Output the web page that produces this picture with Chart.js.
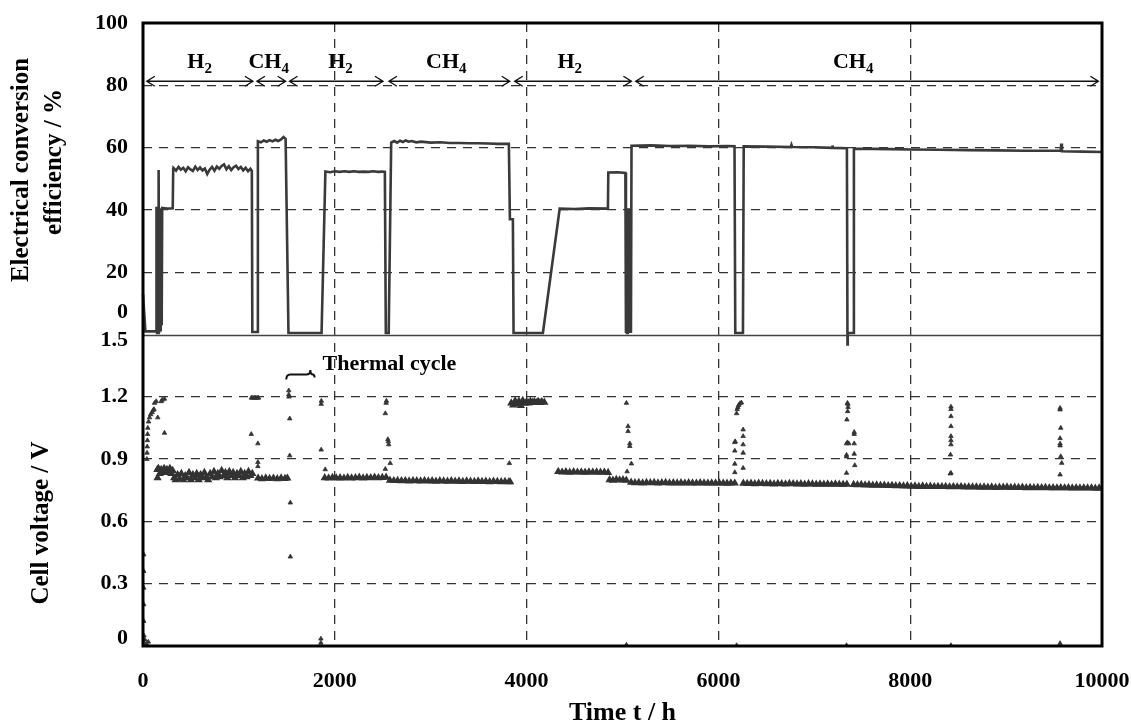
<!DOCTYPE html>
<html><head><meta charset="utf-8">
<script src="https://cdn.jsdelivr.net/npm/chart.js@4/dist/chart.umd.min.js"></script>
<style>html,body{margin:0;padding:0;background:#fff;}#wrap{width:1131px;height:723px;}</style>
</head><body><div id="wrap"><canvas id="c" width="1131" height="723"></canvas></div>
<script>
// ---------------- data ----------------
const xTicks = [0, 2000, 4000, 6000, 8000, 10000];
const effTicks = [0, 20, 40, 60, 80, 100];
const voltTicks = [0, 0.3, 0.6, 0.9, 1.2, 1.5];

// electrical conversion efficiency (%) vs time (h)
const effHours = [
  0, 25, 138, 141, 147, 152, 157, 163, 168, 175, 180, 185, 190, 195, 200, 250, 310, 315,
  320, 345, 370, 395, 420, 445, 470, 495, 520, 545, 570, 595, 620, 645, 670, 695, 720, 745,
  770, 795, 820, 845, 870, 895, 920, 945, 970, 995, 1020, 1045, 1070, 1095, 1120, 1135,
  1140, 1192, 1198, 1230, 1260, 1290, 1320, 1350, 1380, 1410, 1440, 1465, 1487,
  1517, 1862, 1902, 1950, 2000, 2050, 2100, 2150, 2200, 2250, 2300, 2350, 2400, 2450, 2500, 2522,
  2532, 2562, 2588, 2620, 2650, 2680, 2710, 2740, 2770, 2800, 2850, 2900, 3000, 3100, 3200, 3300,
  3400, 3500, 3600, 3700, 3815, 3826, 3857, 3864, 4170, 4345, 4500, 4650, 4848, 4852, 4950, 5030,
  5036, 5042, 5048, 5055, 5062, 5069, 5076, 5083, 5088, 5094, 5300, 5500, 5700, 5900, 6100, 6168,
  6176, 6256, 6264, 6500, 6755, 6762, 6770, 7000, 7185, 7190, 7195, 7340, 7346, 7349, 7407, 7413,
  7600, 7800, 8000, 8300, 8600, 8900, 9200, 9570, 9575, 9582, 9800, 10000
];
const effValues = [
  13, 1, 1, 41, 0.5, 41, 0.5, 52.8, 0.5, 0.5, 40.5, 1, 40.5, 3, 40.6, 40.4, 40.5, 53.2,
  53.4, 52.6, 53.8, 52.9, 53.5, 52.4, 53.7, 53.0, 52.5, 53.9, 52.8, 53.6, 52.7, 53.3, 51.5, 52.9, 53.8, 52.6,
  53.9, 53.2, 54.1, 54.6, 53.0, 54.0, 52.8, 53.7, 54.2, 53.1, 53.8, 52.7, 53.5, 52.4, 53.2, 52.5,
  0.8, 0.8, 62.0, 61.7, 62.3, 61.9, 62.4, 62.0, 62.5, 62.1, 62.6, 63.4, 62.8,
  0.5, 0.5, 52.3, 52.1, 52.4, 52.2, 52.4, 52.2, 52.4, 52.2, 52.3, 52.2, 52.4, 52.2, 52.3, 52.2,
  0.5, 0.5, 61.6, 62.1, 61.6, 62.2, 61.8, 62.3, 61.9, 62.1, 61.7, 61.9, 61.6, 61.7, 61.5, 61.5,
  61.4, 61.4, 61.3, 61.2, 61.2, 37, 37, 0.5, 0.5, 40.4, 40.3, 40.5, 40.4, 52.0, 52.1, 51.9,
  0.5, 40.5, 0.5, 40.5, 0.5, 40.5, 0.5, 40.5, 0.5, 60.6, 60.7, 60.5, 60.6, 60.4, 60.5, 60.4,
  0.5, 0.5, 60.4, 60.3, 60.2, 60.9, 60.2, 60.1, 59.9, 60.7, 59.9, 59.8, -3.2, 0.5, 0.5, 59.6,
  59.6, 59.5, 59.4, 59.3, 59.2, 59.1, 59.0, 59.0, 61.3, 58.8, 58.7, 58.6
];

// cell voltage (V): dense steady-operation bands
const voltBandHours = [
  150, 152, 160, 175, 190, 205, 220, 235, 250, 265,
  280, 295, 310, 325, 340, 360, 380, 400, 420, 440,
  460, 480, 500, 520, 540, 560, 580, 600, 620, 640,
  660, 680, 700, 720, 740, 760, 780, 800, 820, 840,
  860, 880, 900, 920, 940, 960, 980, 1000, 1020, 1040,
  1060, 1080, 1100, 1120, 1140,
  1200, 1240, 1280, 1320, 1360, 1400, 1440, 1480, 1505,
  1895, 1935, 1975, 2015, 2055, 2095, 2135, 2175, 2215, 2255, 2295, 2335, 2375, 2415, 2455, 2495, 2535,
  2575, 2615, 2655, 2695, 2735, 2775, 2815, 2855, 2895, 2935,
  2975, 3015, 3055, 3095, 3135, 3175, 3215, 3255, 3295, 3335,
  3375, 3415, 3455, 3495, 3535, 3575, 3615, 3655, 3695, 3735,
  3775, 3815, 3828,
  3840, 3860, 3880, 3900, 3920, 3940, 3960, 3980, 4000, 4020, 4040, 4060, 4080, 4100, 4120, 4140, 4160, 4185,
  4330, 4370, 4410, 4450, 4490, 4530, 4570, 4610, 4650, 4690, 4730, 4770, 4810, 4850,
  4865, 4900, 4935, 4970, 5005, 5040,
  5090, 5130, 5170, 5210, 5250, 5290, 5330, 5370, 5410, 5450,
  5490, 5530, 5570, 5610, 5650, 5690, 5730, 5770, 5810, 5850,
  5890, 5930, 5970, 6010, 6050, 6090, 6130, 6170,
  6260, 6300, 6340, 6380, 6420, 6460, 6500, 6540, 6580, 6620,
  6660, 6700, 6740, 6780, 6820, 6860, 6900, 6940, 6980, 7020,
  7060, 7100, 7140, 7180, 7220, 7260, 7300, 7340,
  7410, 7450, 7490, 7530, 7570, 7610, 7650, 7690, 7730, 7770,
  7810, 7850, 7890, 7930, 7970, 8010, 8050, 8090, 8130, 8170,
  8210, 8250, 8290, 8330, 8370, 8410, 8450, 8490, 8530, 8570,
  8610, 8650, 8690, 8730, 8770, 8810, 8850, 8890, 8930, 8970,
  9010, 9050, 9090, 9130, 9170, 9210, 9250, 9290, 9330, 9370,
  9410, 9450, 9490, 9530, 9570, 9610, 9650, 9690, 9730, 9770,
  9810, 9850, 9890, 9930, 9970, 10000
];
const voltBandValues = [
  0.850, 0.810, 0.855, 0.830, 0.850, 0.840, 0.855, 0.835, 0.850, 0.840,
  0.855, 0.830, 0.845, 0.810, 0.800, 0.825, 0.805, 0.830, 0.800, 0.820,
  0.810, 0.835, 0.800, 0.825, 0.810, 0.830, 0.800, 0.825, 0.810, 0.835,
  0.815, 0.800, 0.830, 0.815, 0.840, 0.810, 0.830, 0.815, 0.845, 0.820,
  0.835, 0.810, 0.840, 0.820, 0.835, 0.810, 0.830, 0.820, 0.840, 0.810,
  0.830, 0.815, 0.840, 0.820, 0.830,
  0.808, 0.805, 0.809, 0.806, 0.808, 0.805, 0.809, 0.806, 0.808,
  0.810, 0.808, 0.811, 0.809, 0.810, 0.808, 0.811, 0.809, 0.810, 0.812, 0.809, 0.811, 0.810, 0.812, 0.810, 0.811, 0.812,
  0.798, 0.796, 0.797, 0.795, 0.796, 0.794, 0.796, 0.795, 0.794, 0.796,
  0.794, 0.795, 0.793, 0.795, 0.794, 0.793, 0.795, 0.793, 0.794, 0.792,
  0.794, 0.793, 0.792, 0.794, 0.792, 0.793, 0.791, 0.793, 0.792, 0.791,
  0.792, 0.791, 0.790,
  1.170, 1.160, 1.180, 1.165, 1.178, 1.158, 1.182, 1.168, 1.176, 1.170, 1.178, 1.172, 1.176, 1.172, 1.177, 1.172, 1.176, 1.173,
  0.840, 0.837, 0.839, 0.836, 0.839, 0.837, 0.838, 0.836, 0.838, 0.837, 0.838, 0.836, 0.837, 0.835,
  0.800, 0.798, 0.801, 0.799, 0.800, 0.798,
  0.788, 0.786, 0.787, 0.785, 0.787, 0.786, 0.787, 0.785, 0.786, 0.787,
  0.785, 0.786, 0.785, 0.786, 0.784, 0.786, 0.785, 0.784, 0.786, 0.785,
  0.784, 0.785, 0.784, 0.785, 0.784, 0.783, 0.785, 0.784,
  0.783, 0.782, 0.783, 0.781, 0.783, 0.782, 0.781, 0.782, 0.780, 0.782,
  0.781, 0.780, 0.782, 0.781, 0.780, 0.781, 0.779, 0.781, 0.780, 0.779,
  0.780, 0.779, 0.780, 0.778, 0.780, 0.779, 0.778, 0.779,
  0.777, 0.776, 0.777, 0.775, 0.776, 0.774, 0.775, 0.773, 0.774, 0.772,
  0.773, 0.771, 0.772, 0.770, 0.771, 0.769, 0.770, 0.768, 0.770, 0.768,
  0.769, 0.767, 0.768, 0.767, 0.768, 0.766, 0.767, 0.766, 0.767, 0.765,
  0.766, 0.765, 0.766, 0.764, 0.765, 0.764, 0.765, 0.763, 0.764, 0.764,
  0.765, 0.763, 0.764, 0.763, 0.764, 0.762, 0.763, 0.762, 0.763, 0.762,
  0.763, 0.761, 0.762, 0.761, 0.762, 0.761, 0.762, 0.760, 0.761, 0.760,
  0.761, 0.760, 0.761, 0.759, 0.760, 0.760
];

// cell voltage (V): start-up / shut-down transients
const voltTransHours = [
  0, 10, 20, 35, 55, 8, 8, 8, 8, 8,
  40, 42, 44, 46, 48, 50, 58, 68, 80, 95,
  105, 115, 120, 138, 154, 190, 200, 224, 224,
  1130, 1145, 1160, 1175, 1190, 1205, 1129, 1198, 1198, 1198,
  1520, 1520, 1522, 1530, 1530, 1536, 1536,
  1858, 1860, 1858, 1900, 1855, 1855,
  2535, 2538, 2527, 2553, 2558, 2562, 2578, 2527,
  3820,
  5041, 5058, 5058, 5076, 5076, 5093, 5048, 5041,
  6190, 6196, 6203, 6212, 6225, 6240, 6171, 6175, 6171, 6171, 6171, 6258, 6258, 6258, 6258, 6258, 6190,
  7345, 7350, 7352, 7348, 7340, 7336, 7346, 7360, 7336, 7336, 7416, 7416, 7416, 7416, 7422, 7336, 7336,
  8425, 8425, 8425, 8425, 8425, 8425, 8425, 8420, 8425, 8418, 8425,
  9563, 9563, 9570, 9563, 9563, 9563, 9570, 9580, 9563, 9563
];
const voltTransValues = [
  0.02, 0.05, 0.03, 0.01, 0.02, 0.12, 0.20, 0.28, 0.36, 0.44,
  0.90, 0.93, 0.96, 0.99, 1.02, 1.05, 1.08, 1.10, 1.115, 1.125,
  1.135, 1.14, 1.17, 1.178, 1.10, 1.178, 1.185, 1.19, 1.026,
  1.195, 1.195, 1.195, 1.195, 1.195, 1.195, 1.02, 0.975, 0.885, 0.865,
  1.23, 1.21, 1.20, 1.095, 0.917, 0.69, 0.43,
  1.165, 1.18, 0.945, 0.85, 0.035, 0.015,
  1.17, 1.18, 1.12, 0.995, 0.985, 0.97, 0.88, 0.852,
  0.88,
  1.17, 1.058, 1.034, 0.975, 0.962, 0.878, 0.84, 0.005,
  1.12, 1.14, 1.15, 1.16, 1.168, 1.172, 0.981, 0.985, 0.94, 0.877, 0.836, 1.042, 1.01, 0.97, 0.93, 0.857, 0.003,
  1.17, 1.165, 1.15, 1.13, 1.09, 0.975, 0.98, 0.975, 0.92, 0.912, 1.02, 1.03, 0.975, 0.925, 0.87, 0.833, 0.003,
  1.152, 1.14, 1.106, 1.058, 1.01, 0.99, 0.97, 0.921, 0.833, 0.83, 0.003,
  1.146, 1.138, 1.05, 1.0, 0.974, 0.965, 0.913, 0.881, 0.825, 0.013
];

// fuel phases (arrows along the top)
const phaseNames = ['H', 'CH', 'H', 'CH', 'H', 'CH'];
const phaseSubs = ['2', '4', '2', '4', '2', '4'];
const phaseStart = [40, 1188, 1528, 2565, 3876, 5138];
const phaseEnd = [1146, 1487, 2502, 3824, 5093, 9962];
const phaseLabelAt = [590, 1310, 2060, 3163, 4450, 7406];
const phaseLeftHead = [true, true, true, true, true, true];
const phaseArrowLevel = 81.3;

// thermal cycle brace
const thermalStart = 1494, thermalPeak = 1745, thermalEnd = 1789, thermalLevel = 1.307;
const thermalText = 'Thermal cycle';

// ---------------- chart ----------------
const SERIF = '"Liberation Serif", "Times New Roman", serif';
const GRID = '#333';
const toXY = (hs, vs) => hs.map((h, i) => ({x: h, y: vs[i]}));

const deco = {
  id: 'deco',
  afterDraw(chart) {
    const {ctx, chartArea: a, scales} = chart;
    const x = scales.x, yE = scales.yE, yV = scales.yV;
    ctx.save();
    // divider between panels
    ctx.strokeStyle = '#444'; ctx.lineWidth = 1.5;
    const yd = Math.round(yE.bottom) + 0.5;
    ctx.beginPath(); ctx.moveTo(a.left, yd); ctx.lineTo(a.right, yd); ctx.stroke();
    // frame
    ctx.strokeStyle = '#000'; ctx.lineWidth = 3;
    ctx.strokeRect(a.left, a.top, a.right - a.left, a.bottom - a.top);

    ctx.fillStyle = '#000';
    // displaced tick labels
    ctx.font = 'bold 22px ' + SERIF; ctx.textAlign = 'right'; ctx.textBaseline = 'middle';
    ctx.fillText('0', a.left - 15, yE.bottom - 22);
    ctx.fillText('1.5', a.left - 15, yV.top + 6);
    ctx.fillText('0', a.left - 15, yV.bottom - 8);

    // axis titles
    const vtext = (t, cx, cy) => {
      ctx.save(); ctx.translate(cx, cy); ctx.rotate(-Math.PI / 2);
      ctx.textAlign = 'center'; ctx.textBaseline = 'middle'; ctx.fillText(t, 0, 0); ctx.restore();
    };
    ctx.font = 'bold 25px ' + SERIF;
    vtext('Electrical conversion', 22, 170);
    vtext('efficiency / %', 55, 162);
    vtext('Cell voltage / V', 42, 523);
    ctx.font = 'bold 26px ' + SERIF; ctx.textAlign = 'center'; ctx.textBaseline = 'middle';
    ctx.fillText('Time t / h', (a.left + a.right) / 2, 713);

    // phase arrows
    ctx.strokeStyle = '#111'; ctx.lineWidth = 1.4;
    const ay = yE.getPixelForValue(phaseArrowLevel);
    for (let i = 0; i < phaseStart.length; i++) {
      const x1 = x.getPixelForValue(phaseStart[i]), x2 = x.getPixelForValue(phaseEnd[i]);
      ctx.beginPath(); ctx.moveTo(x1, ay); ctx.lineTo(x2, ay);
      if (phaseLeftHead[i]) { ctx.moveTo(x1 + 8, ay - 5); ctx.lineTo(x1, ay); ctx.lineTo(x1 + 8, ay + 5); }
      ctx.moveTo(x2 - 8, ay - 5); ctx.lineTo(x2, ay); ctx.lineTo(x2 - 8, ay + 5);
      ctx.stroke();
      // label with subscript
      const mainF = 'bold 22px ' + SERIF, subF = 'bold 15px ' + SERIF;
      ctx.font = mainF; const w1 = ctx.measureText(phaseNames[i]).width;
      ctx.font = subF; const w2 = ctx.measureText(phaseSubs[i]).width;
      const cx = x.getPixelForValue(phaseLabelAt[i]);
      const sx = cx - (w1 + w2) / 2;
      ctx.textAlign = 'left'; ctx.textBaseline = 'alphabetic';
      ctx.font = mainF; ctx.fillText(phaseNames[i], sx, ay - 13.5);
      ctx.font = subF; ctx.fillText(phaseSubs[i], sx + w1, ay - 8.5);
    }

    // thermal cycle brace
    const bx1 = x.getPixelForValue(thermalStart), bx2 = x.getPixelForValue(thermalEnd), bxm = x.getPixelForValue(thermalPeak);
    const by = yV.getPixelForValue(thermalLevel);
    ctx.lineWidth = 2; ctx.strokeStyle = '#111';
    ctx.beginPath();
    ctx.moveTo(bx1, by + 5); ctx.quadraticCurveTo(bx1, by, bx1 + 4, by);
    ctx.lineTo(bxm - 4, by); ctx.quadraticCurveTo(bxm, by, bxm, by - 4.5);
    ctx.quadraticCurveTo(bxm, by, bxm + 3, by);
    ctx.lineTo(bx2 - 2, by); ctx.quadraticCurveTo(bx2, by, bx2, by + 3);
    ctx.stroke();
    ctx.font = 'bold 22px ' + SERIF; ctx.textAlign = 'left'; ctx.textBaseline = 'alphabetic';
    ctx.fillText(thermalText, bx2 + 8, by - 5);
    ctx.restore();
  }
};

const tickFont = {family: SERIF, size: 22, weight: 'bold'};
const hideEnds = (lo, hi) => (ctx) => (ctx.tick && (Math.abs(ctx.tick.value - lo) < 1e-9 || Math.abs(ctx.tick.value - hi) < 1e-9)) ? 'rgba(0,0,0,0)' : GRID;

new Chart(document.getElementById('c'), {
  type: 'line',
  data: {
    datasets: [
      {
        label: 'Efficiency', yAxisID: 'yE', data: toXY(effHours, effValues),
        borderColor: '#3a3a3a', borderWidth: 2.6, pointRadius: 0, tension: 0, fill: false, clip: false
      },
      {
        label: 'Voltage band', yAxisID: 'yV', data: toXY(voltBandHours, voltBandValues), showLine: false,
        pointStyle: 'triangle', pointRadius: 3.2, backgroundColor: '#333', borderColor: '#333', borderWidth: 1.6
      },
      {
        label: 'Voltage transients', yAxisID: 'yV', data: toXY(voltTransHours, voltTransValues), showLine: false,
        pointStyle: 'triangle', pointRadius: 2.6, backgroundColor: '#333', borderColor: '#333', borderWidth: 0.8
      }
    ]
  },
  options: {
    responsive: false, animation: false, devicePixelRatio: 1,
    layout: {padding: {top: 23, right: 29, bottom: 0, left: 0}},
    plugins: {legend: {display: false}, tooltip: {enabled: false}},
    scales: {
      x: {
        type: 'linear', position: 'bottom', min: 0, max: 10000,
        afterBuildTicks: s => { s.ticks = xTicks.map(v => ({value: v})); },
        afterFit: s => { s.height = 77; s.paddingLeft = 0; s.paddingRight = 0; },
        ticks: {font: tickFont, color: '#000', padding: 22.5, maxRotation: 0, autoSkip: false, callback: v => String(v)},
        grid: {drawTicks: false, color: hideEnds(0, 10000), lineWidth: 1.3},
        border: {display: false, dash: [9, 7]}
      },
      yV: {
        type: 'linear', position: 'left', stack: 'panels', stackWeight: 1, min: 0, max: 1.5,
        afterBuildTicks: s => { s.ticks = voltTicks.map(v => ({value: v})); },
        afterFit: s => { s.width = 143; s.paddingTop = 0; s.paddingBottom = 0; },
        ticks: {font: tickFont, color: '#000', padding: 15, callback: v => (v === 0 || v === 1.5) ? '' : v.toFixed(1)},
        grid: {drawTicks: false, color: hideEnds(0, 1.5), lineWidth: 1.3},
        border: {display: false, dash: [9, 7]}
      },
      yE: {
        type: 'linear', position: 'left', stack: 'panels', stackWeight: 1, min: 0, max: 100,
        afterBuildTicks: s => { s.ticks = effTicks.map(v => ({value: v})); },
        afterFit: s => { s.width = 143; s.paddingTop = 0; s.paddingBottom = 0; },
        ticks: {font: tickFont, color: '#000', padding: 15, callback: v => v === 0 ? '' : String(v)},
        grid: {drawTicks: false, color: hideEnds(0, 100), lineWidth: 1.3},
        border: {display: false, dash: [9, 7]}
      }
    }
  },
  plugins: [deco]
});
</script>
</body></html>
